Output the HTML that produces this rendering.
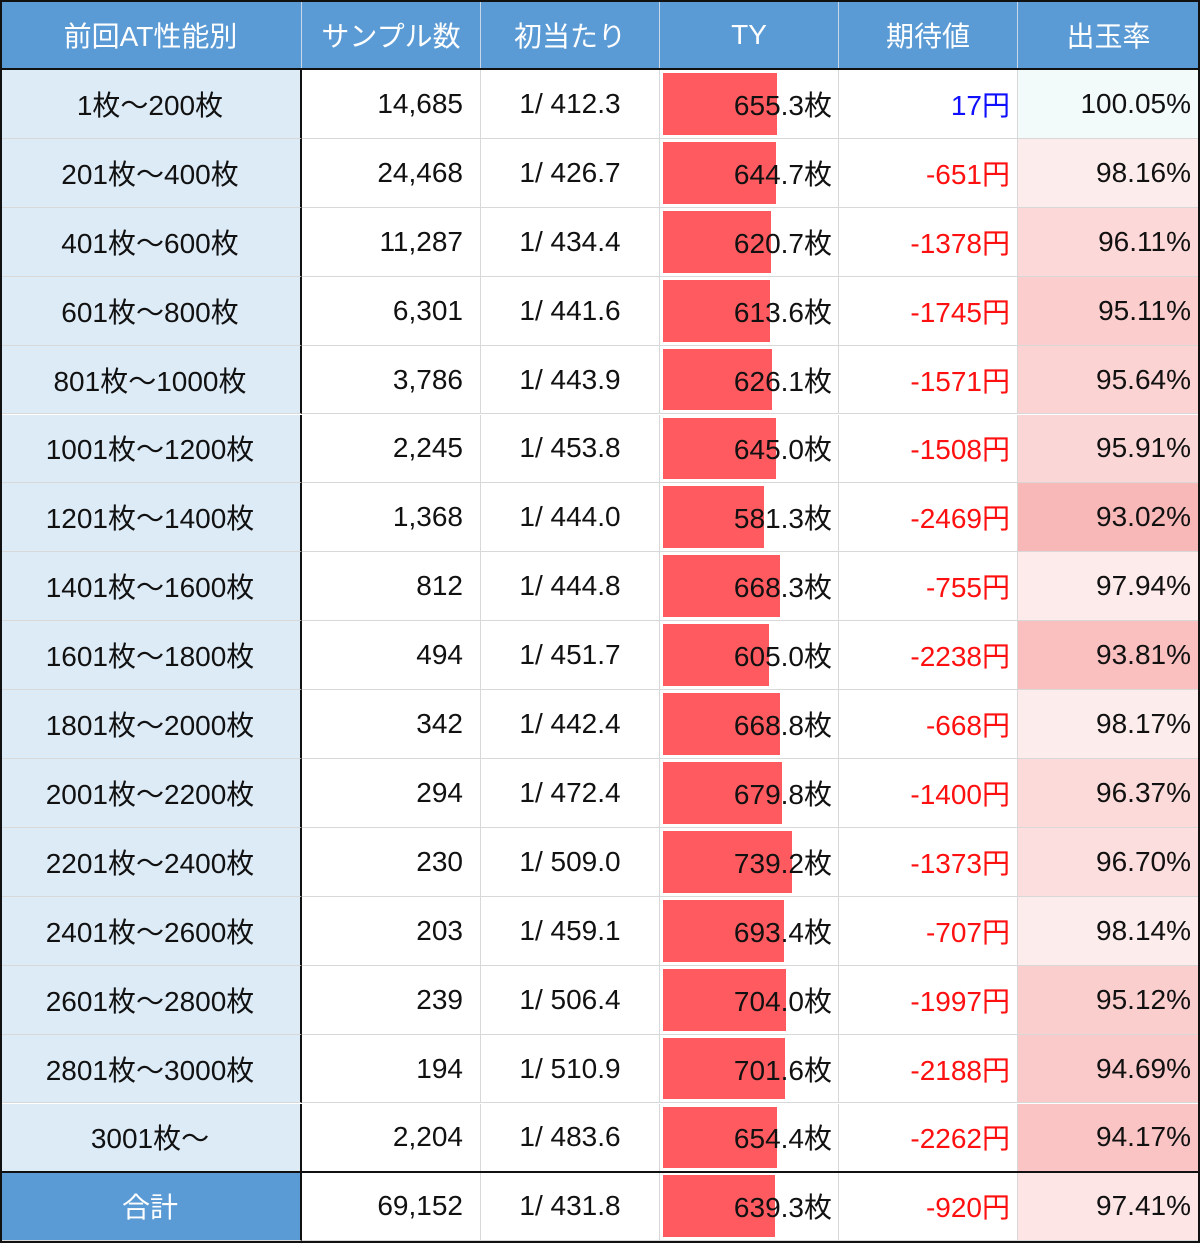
<!DOCTYPE html>
<html><head><meta charset="utf-8">
<style>
body{margin:0;background:#fff;}
#t{position:relative;width:1200px;height:1243px;overflow:hidden;font-family:"Liberation Sans","Noto Sans CJK JP",sans-serif;font-size:28px;color:#111;}
.c{position:absolute;box-sizing:border-box;display:flex;align-items:center;white-space:nowrap;border-right:1px solid #d8d8d8;border-bottom:1px solid #d8d8d8;}
.h{background:#5b9bd5;color:#fff;justify-content:center;border-right:1px solid #c8d8e8;}
.bar{position:absolute;background:#ff5a5f;}
</style></head><body>
<div id="t"></div>
<script>
const headers=["前回AT性能別","サンプル数","初当たり","TY","期待値","出玉率"];
const categories=["1枚～200枚","201枚～400枚","401枚～600枚","601枚～800枚","801枚～1000枚","1001枚～1200枚","1201枚～1400枚","1401枚～1600枚","1601枚～1800枚","1801枚～2000枚","2001枚～2200枚","2201枚～2400枚","2401枚～2600枚","2601枚～2800枚","2801枚～3000枚","3001枚～","合計"];
const samples=["14,685","24,468","11,287","6,301","3,786","2,245","1,368","812","494","342","294","230","203","239","194","2,204","69,152"];
const firstHit=[412.3,426.7,434.4,441.6,443.9,453.8,444.0,444.8,451.7,442.4,472.4,509.0,459.1,506.4,510.9,483.6,431.8];
const ty=[655.3,644.7,620.7,613.6,626.1,645.0,581.3,668.3,605.0,668.8,679.8,739.2,693.4,704.0,701.6,654.4,639.3];
const expected=[17,-651,-1378,-1745,-1571,-1508,-2469,-755,-2238,-668,-1400,-1373,-707,-1997,-2188,-2262,-920];
const rates=[100.05,98.16,96.11,95.11,95.64,95.91,93.02,97.94,93.81,98.17,96.37,96.70,98.14,95.12,94.69,94.17,97.41];
const T=document.getElementById('t');
const colX=[0,302,481,660,839,1018,1200];
const headH=70,rowH=68.9;
function cell(x,y,w,h,cls,txt,name,align,pad){
  const d=document.createElement('div');
  d.className='c '+cls;
  
  
  d.style.left=x+'px';d.style.top=y+'px';d.style.width=w+'px';d.style.height=h+'px';
  if(align)d.style.justifyContent=align;
  if(pad)d.style.paddingRight=pad+'px';
  d.innerHTML=txt;T.appendChild(d);return d;
}
headers.forEach((h,i)=>cell(colX[i],0,colX[i+1]-colX[i],headH,'h',h,'header-'+i,'center'));
function rateColor(r){
  if(r>=100)return '#f3fafa';
  const f=Math.min(1,(100-r)/7);
  const g=Math.round(255-(255-184)*f),b=Math.round(255-(255-184)*f),rr=Math.round(255-(255-249)*f);
  return `rgb(${rr},${g},${b})`;
}
categories.forEach((c,i)=>{
  const y=headH+i*rowH,h=rowH;
  const last=i===categories.length-1;
  const c0=cell(0,y,302,h,'',c,'row-label','center');
  c0.style.background=last?'#5b9bd5':'#ddebf7';
  if(last)c0.style.color='#fff';
  c0.style.borderRight='2px solid #111';
  cell(302,y,179,h,'',samples[i],'sample-count','flex-end',17);
  cell(481,y,179,h,'','1/ '+firstHit[i].toFixed(1),'first-hit','center');
  const tc=cell(660,y,179,h,'','','ty-cell');
  const bar=document.createElement('div');
  bar.className='bar';
  
  
  bar.style.left='3px';bar.style.top='3px';bar.style.bottom='3px';
  bar.style.width=(ty[i]*0.1745)+'px';
  tc.appendChild(bar);
  const sp=document.createElement('span');
  
  
  sp.style.cssText='position:absolute;right:6px;';
  sp.textContent=ty[i].toFixed(1)+'枚';
  tc.appendChild(sp);
  const e=cell(839,y,179,h,'',expected[i]+'円','expected-value','flex-end',7);
  e.style.color=expected[i]>=0?'#1010ff':'#ff1010';
  const r=cell(1018,y,182,h,'',rates[i].toFixed(2)+'%','payout-rate','flex-end',8);
  r.style.background=rateColor(rates[i]);
});
// black lines
function line(x,y,w,h,name){const d=document.createElement('div');d.style.cssText=`position:absolute;left:${x}px;top:${y}px;width:${w}px;height:${h}px;background:#111;`;T.appendChild(d);}
line(0,headH-2,1200,2,'header-rule');
line(0,headH+16*rowH-1,1200,2,'total-rule');
const o=document.createElement('div');


o.style.cssText='position:absolute;left:0;top:0;width:1200px;height:1243px;box-sizing:border-box;border:2px solid #111;';
T.appendChild(o);
</script>
</body></html>
